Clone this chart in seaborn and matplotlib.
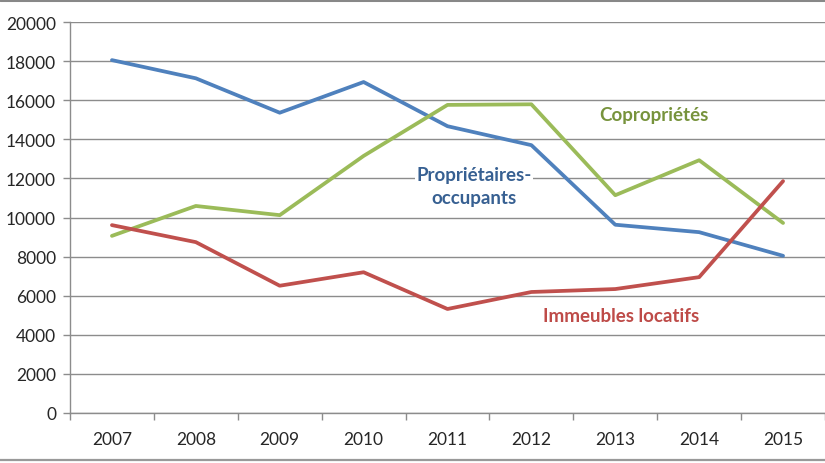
import pandas as pd
import numpy as np
import matplotlib.pyplot as plt
import seaborn as sns
from matplotlib.lines import Line2D

# Data
years = ['2007', '2008', '2009', '2010', '2011', '2012', '2013', '2014', '2015']
proprietaires = [18050, 17120, 15360, 16930, 14670, 13700, 9630, 9250, 8040]
coproprietes = [9060, 10590, 10120, 13150, 15760, 15790, 11140, 12930, 9720]
immeubles = [9610, 8740, 6510, 7200, 5320, 6190, 6340, 6950, 11860]

series_names = ['Propriétaires-occupants', 'Copropriétés', 'Immeubles locatifs']
line_colors = ['#4F81BD', '#9BBB59', '#C0504D']
text_colors = ['#376092', '#77933C', '#BE4B48']

df = pd.DataFrame({
    'idx': list(range(len(years))) * 3,
    'value': proprietaires + coproprietes + immeubles,
    'serie': [s for s in series_names for _ in years],
})

sns.set_style("white")
plt.rcParams['font.family'] = ['Lato', 'DejaVu Sans']

fig = plt.figure(figsize=(8.25, 4.64), dpi=100)
ax = fig.add_axes([70 / 825, 50 / 464, 755 / 825, 391 / 464])

sns.lineplot(data=df, x='idx', y='value', hue='serie', palette=line_colors,
             linewidth=2.7, legend=False, ax=ax, zorder=3)

ax.set_xlim(-0.5, 8.35)
ax.set_ylim(0, 20000)
ax.set_yticks(range(0, 20001, 2000))
ax.yaxis.grid(True, color='#8C8C8C', linewidth=1.0)
ax.set_axisbelow(True)

# category labels centered, tick marks at boundaries
ax.set_xticks(range(len(years)))
ax.set_xticklabels(years)
ax.set_xticks(np.arange(-0.5, 9, 1.0), minor=True)
ax.tick_params(axis='x', which='major', length=0, pad=13, labelsize=12.5)
ax.tick_params(axis='x', which='minor', length=5, color='#8C8C8C', width=1, direction='out')
ax.tick_params(axis='y', which='major', length=5, color='#8C8C8C', width=1, direction='out',
               labelsize=12.5, pad=5)
ax.tick_params(bottom=True, left=True)
ax.xaxis.set_tick_params(which='minor', bottom=True)

for side in ['top', 'right']:
    ax.spines[side].set_visible(False)
for side in ['left', 'bottom']:
    ax.spines[side].set_color('#8C8C8C')
    ax.spines[side].set_linewidth(1.0)

ax.set_xlabel('')
ax.set_ylabel('')

# series labels placed in the chart
box = dict(facecolor='white', edgecolor='none', pad=1)
ax.text(6.46, 15250, 'Copropriétés', color=text_colors[1], fontsize=13.5,
        fontweight='bold', ha='center', va='center', bbox=box, zorder=4)
ax.text(4.32, 11600, 'Propriétaires-\noccupants', color=text_colors[0], fontsize=13.5,
        fontweight='bold', ha='center', va='center', linespacing=1.45, bbox=box, zorder=4)
ax.text(6.07, 5000, 'Immeubles locatifs', color=text_colors[2], fontsize=13.5,
        fontweight='bold', ha='center', va='center', bbox=box, zorder=4)

# frame bars at top and bottom of the picture
fig.add_artist(Line2D([0, 1], [1 - 1.2 / 464, 1 - 1.2 / 464], transform=fig.transFigure,
                      color='#888888', linewidth=2.2))
fig.add_artist(Line2D([0, 1], [3.5 / 464, 3.5 / 464], transform=fig.transFigure,
                      color='#999999', linewidth=1.6))

fig.savefig('out.png', dpi=100)
